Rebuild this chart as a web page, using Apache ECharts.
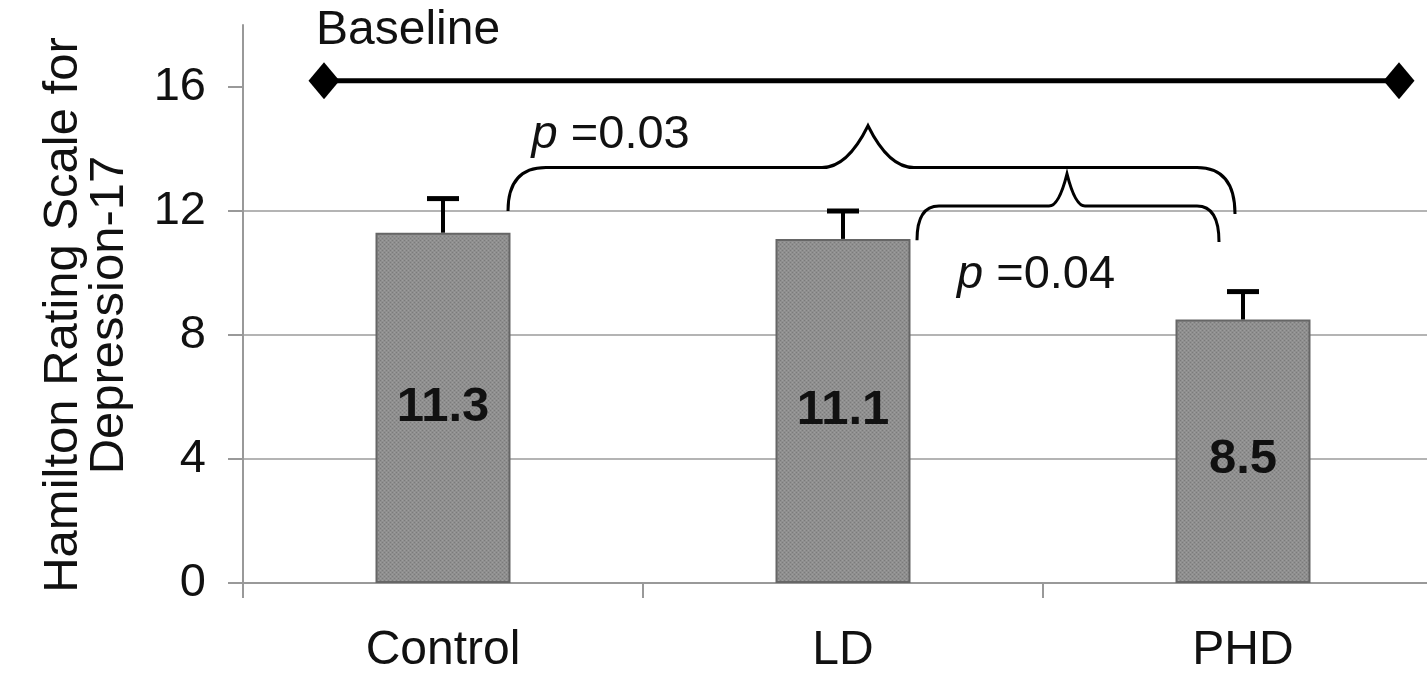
<!DOCTYPE html>
<html>
<head>
<meta charset="utf-8">
<title>Hamilton Rating Scale for Depression-17</title>
<script src="https://cdn.jsdelivr.net/npm/echarts@6/dist/echarts.min.js"></script>
<style>
  html, body { margin: 0; padding: 0; background: #fff; overflow: hidden; }
  /* the last category band runs slightly past the right edge of the window */
  #chart { width: 1445px; height: 675px; }
</style>
</head>
<body>
<div id="chart"></div>
<script>
// ---- data ----
const categories = ['Control', 'LD', 'PHD'];
const meanScores = [11.3, 11.1, 8.5];
const errorUpper = [1.1, 0.9, 0.9];
const baselineScore = 16.2;
const baselineSpan = [0.2025, 2.89];          // on the hidden value x axis, one unit per group
const yTickValues = [0, 4, 8, 12, 16];
const yTickLabels = ['0', '4', '8', '12', '16'];
const comparisons = [
  { from: 0, to: 2, p: '0.03' },
  { from: 1, to: 2, p: '0.04' }
];

// ---- brace layout (axis units, pixel sizes for the curls) ----
const braceGeometry = [
  { x0: 0.6625, x1: 2.48, xPeak: 1.5625, yLeft: 12.0, yRight: 11.9, yBar: 13.4, yPeak: 14.75,
    curl: 38, flank: 46, label: [0.7215, 14.45] },
  { x0: 1.685, x1: 2.44, xPeak: 2.06, yLeft: 11.06, yRight: 11.0, yBar: 12.16, yPeak: 13.2,
    curl: 22, flank: 18, label: [1.785, 9.95] }
];

const FONT = "'Liberation Sans', Arial, Helvetica, sans-serif";
const TEXT = '#111';

// fine stipple used for the bar fill
function stipple() {
  const c = document.createElement('canvas');
  c.width = 4; c.height = 4;
  const g = c.getContext('2d');
  g.fillStyle = '#8f8f8f'; g.fillRect(0, 0, 4, 4);
  g.fillStyle = '#7b7b7b'; g.fillRect(0, 0, 1, 1); g.fillRect(2, 2, 1, 1);
  g.fillStyle = '#9d9d9d'; g.fillRect(2, 0, 1, 1); g.fillRect(0, 2, 1, 1);
  return c;
}

const chart = echarts.init(document.getElementById('chart'), null, { renderer: 'canvas' });

const option = {
  animation: false,
  backgroundColor: '#fff',
  textStyle: { fontFamily: FONT },
  grid: { left: 243, right: 2, top: 25, bottom: 91, containLabel: false },
  xAxis: [
    {
      type: 'category',
      data: categories,
      boundaryGap: true,
      axisLine: { show: true, lineStyle: { color: '#999', width: 2 } },
      axisTick: { show: true, length: 15, lineStyle: { color: '#999', width: 2 } },
      axisLabel: { fontSize: 48, color: TEXT, margin: 44, fontFamily: FONT },
      splitLine: { show: false }
    },
    { type: 'value', min: 0, max: 3, show: false }
  ],
  yAxis: {
    type: 'value',
    min: 0,
    max: 18,
    interval: 4,
    axisLine: { show: true, lineStyle: { color: '#999', width: 2 } },
    axisTick: { show: true, length: 15, customValues: yTickValues, lineStyle: { color: '#999', width: 2 } },
    axisLabel: {
      customValues: yTickValues,
      formatter: v => yTickLabels[yTickValues.indexOf(v)] ?? '',
      fontSize: 47, color: TEXT, margin: 37, fontFamily: FONT
    },
    splitLine: { show: true, showMaxLine: false, lineStyle: { color: '#b4b4b4', width: 2 } }
  },
  graphic: [
    {
      type: 'text',
      x: 86, y: 315,
      rotation: Math.PI / 2,
      style: {
        text: 'Hamilton Rating Scale for\nDepression-17',
        font: '49px ' + FONT,
        fill: TEXT,
        align: 'center',
        verticalAlign: 'middle',
        lineHeight: 46
      }
    }
  ],
  series: [
    {
      name: 'HRSD-17',
      type: 'bar',
      xAxisIndex: 0,
      yAxisIndex: 0,
      barWidth: 135,
      data: meanScores.map((v, i) => ({
        value: v,
        label: i === 2 ? { offset: [0, 8] } : undefined
      })),
      itemStyle: {
        color: { image: stipple(), repeat: 'repeat' },
        borderColor: '#666',
        borderWidth: 2
      },
      label: {
        show: true,
        position: 'inside',
        formatter: p => String(p.value),
        fontSize: 49,
        fontWeight: 'bold',
        color: TEXT,
        fontFamily: FONT
      },
      z: 2
    },
    {
      name: 'SE',
      type: 'custom',
      xAxisIndex: 0,
      yAxisIndex: 0,
      data: meanScores.map((v, i) => [i, v, +(v + errorUpper[i]).toFixed(2)]),
      encode: { x: 0, y: [1, 2] },
      renderItem: (params, api) => {
        const idx = api.value(0);
        const base = api.coord([idx, api.value(1)]);
        const top = api.coord([idx, api.value(2)]);
        return {
          type: 'group',
          children: [
            { type: 'line', shape: { x1: base[0], y1: base[1], x2: top[0], y2: top[1] },
              style: { stroke: '#000', lineWidth: 4 } },
            { type: 'line', shape: { x1: top[0] - 16, y1: top[1], x2: top[0] + 16, y2: top[1] },
              style: { stroke: '#000', lineWidth: 5 } }
          ]
        };
      },
      z: 3
    },
    {
      name: 'Baseline',
      type: 'line',
      xAxisIndex: 1,
      yAxisIndex: 0,
      data: baselineSpan.map((x, i) => ({
        value: [x, baselineScore],
        label: i === 0 ? {
          show: true,
          formatter: 'Baseline',
          position: 'top',
          align: 'left',
          distance: 8,
          offset: [-8, 0],
          fontSize: 48,
          color: TEXT,
          fontFamily: FONT
        } : { show: false }
      })),
      symbol: 'diamond',
      symbolSize: [31, 37],
      lineStyle: { color: '#000', width: 5 },
      itemStyle: { color: '#000' },
      z: 4
    },
    {
      name: 'Comparisons',
      type: 'custom',
      xAxisIndex: 1,
      yAxisIndex: 0,
      data: comparisons.map((c, i) => [i, c.from, c.to]),
      encode: { x: 1, y: 0 },
      renderItem: (params, api) => {
        const g = braceGeometry[params.dataIndex];
        const c = comparisons[params.dataIndex];
        const L = api.coord([g.x0, g.yLeft]);
        const R = api.coord([g.x1, g.yRight]);
        const P = api.coord([g.xPeak, g.yPeak]);
        const yb = api.coord([g.xPeak, g.yBar])[1];
        const d = [
          'M', L[0], L[1],
          'Q', L[0], yb, L[0] + g.curl, yb,
          'L', P[0] - g.flank, yb,
          'Q', P[0] - g.flank * 0.45, yb, P[0], P[1],
          'Q', P[0] + g.flank * 0.45, yb, P[0] + g.flank, yb,
          'L', R[0] - g.curl, yb,
          'Q', R[0], yb, R[0], R[1]
        ].join(' ');
        const lp = api.coord(g.label);
        return {
          type: 'group',
          children: [
            { type: 'path', shape: { pathData: d },
              style: { stroke: '#000', lineWidth: 3, fill: 'none' } },
            { type: 'text',
              style: {
                x: lp[0], y: lp[1],
                text: '{i|p} =' + c.p,
                fontSize: 47, fontFamily: FONT, fill: TEXT,
                align: 'left', verticalAlign: 'middle',
                rich: { i: { fontStyle: 'italic', fontSize: 47, fontFamily: FONT, fill: TEXT } }
              } }
          ]
        };
      },
      z: 5
    }
  ]
};

chart.setOption(option);
</script>
</body>
</html>
